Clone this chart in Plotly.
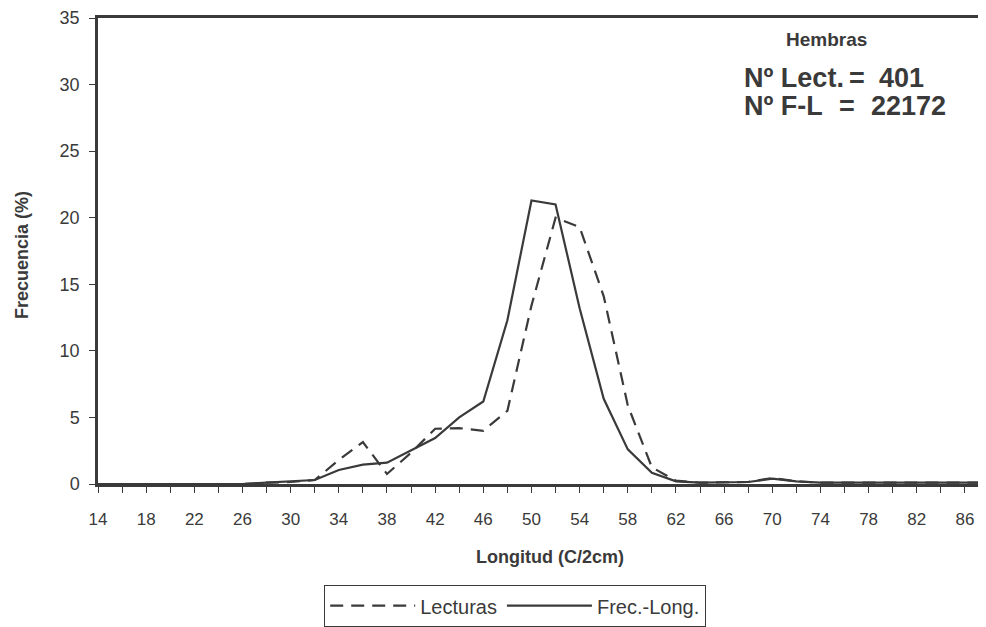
import plotly.graph_objects as go

# Categories (length classes, C/2cm)
longitud = [14, 16, 18, 20, 22, 24, 26, 28, 30, 32, 34, 36, 38, 40, 42, 44, 46, 48, 50,
            52, 54, 56, 58, 60, 62, 64, 66, 68, 70, 72, 74, 76, 78, 80, 82, 84, 86, 88]

# Lecturas (dashed)
lecturas = [0, 0, 0, 0, 0, 0, 0, 0.1, 0.15, 0.3, 1.8, 3.15, 0.75, 2.35, 4.15, 4.2, 4.0, 5.5, 13.4,
            20.0, 19.3, 14.1, 5.9, 1.25, 0.25, 0.1, 0.1, 0.15, 0.45, 0.2, 0.1, 0.1, 0.1, 0.1, 0.1, 0.1, 0.1, 0.1]

# Frec.-Long. (solid)
frec_long = [0, 0, 0, 0, 0, 0, 0, 0.1, 0.2, 0.3, 1.05, 1.45, 1.6, 2.5, 3.45, 5.0, 6.2, 12.3, 21.3,
             21.0, 13.2, 6.4, 2.6, 0.85, 0.2, 0.1, 0.1, 0.15, 0.4, 0.2, 0.1, 0.1, 0.1, 0.1, 0.1, 0.1, 0.1, 0.1]

x_tick_labels = ["14", "18", "22", "26", "30", "34", "38", "42", "46", "50",
                 "54", "58", "62", "66", "70", "74", "78", "82", "86"]
y_tick_labels = ["0", "5", "10", "15", "20", "25", "30", "35"]

INK = "#3a3a3a"
FONT = "Liberation Sans, Arial, sans-serif"

fig = go.Figure()
fig.add_trace(go.Scatter(x=longitud, y=lecturas, mode="lines", name="Lecturas",
                         line=dict(color=INK, width=2.2, dash="13px,8px")))
fig.add_trace(go.Scatter(x=longitud, y=frec_long, mode="lines", name="Frec.-Long.",
                         line=dict(color=INK, width=2.2)))

# page body has an 8px margin: figure is placed at (8, 8) in the window
OFF = 8
W, H = 986 - OFF, 627 - OFF
L, R, T, B = 98 - OFF, 3, 18 - OFF, H - (484 - OFF)
pw, ph = W - L - R, H - T - B

def px(x):
    return (x - OFF - L) / pw

def py(y):
    return (H - B - (y - OFF)) / ph

fig.update_layout(
    width=W, height=H,
    margin=dict(l=L, r=R, t=T, b=B, pad=0, autoexpand=False),
    paper_bgcolor="white", plot_bgcolor="white",
    font=dict(family=FONT, color=INK, size=17),
    showlegend=True,
    legend=dict(orientation="h", x=px(515), y=py(585), xanchor="center", yanchor="top",
                bordercolor=INK, borderwidth=1.2, bgcolor="white",
                font=dict(size=20, family=FONT, color=INK), itemwidth=85,
                tracegroupgap=0),
    xaxis=dict(range=[14, 87.5], tickmode="array", automargin=False,
               tickvals=[float(v) for v in x_tick_labels], ticktext=x_tick_labels,
               ticks="outside", ticklen=6, tickwidth=1.2, tickcolor=INK,
               minor=dict(tickmode="array", tickvals=longitud, ticks="outside",
                          ticklen=6, tickwidth=1.2, tickcolor=INK),
               showline=True, linecolor=INK, linewidth=2.5, mirror=True,
               showgrid=False, zeroline=False, ticklabelstandoff=12,
               ticklabeloverflow="allow",
               tickfont=dict(size=17, family=FONT, color=INK)),
    yaxis=dict(range=[0, 35], tickmode="array", automargin=False,
               tickvals=[float(v) for v in y_tick_labels], ticktext=y_tick_labels,
               ticks="outside", ticklen=6, tickwidth=1.2, tickcolor=INK,
               showline=True, linecolor=INK, linewidth=2.5, mirror=True,
               showgrid=False, zeroline=False, ticklabelstandoff=6,
               ticklabeloverflow="allow",
               tickfont=dict(size=18, family=FONT, color=INK)),
)

ann = [
    dict(text="<b>Longitud (C/2cm)</b>", x=px(550), y=py(557), xanchor="center", yanchor="middle",
         font=dict(size=18)),
    dict(text="<b>Frecuencia (%)</b>", x=px(22), y=py(255), xanchor="center", yanchor="middle",
         textangle=-90, font=dict(size=18)),
    dict(text="<b>Hembras</b>", x=px(826), y=py(40), xanchor="center", yanchor="middle",
         font=dict(size=19)),
    dict(text="<b>Nº Lect.</b>", x=px(742), y=py(78), xanchor="left", yanchor="middle",
         font=dict(size=27)),
    dict(text="<b>=</b>", x=px(847), y=py(78), xanchor="left", yanchor="middle",
         font=dict(size=27)),
    dict(text="<b>401</b>", x=px(877), y=py(78), xanchor="left", yanchor="middle",
         font=dict(size=27)),
    dict(text="<b>Nº F-L</b>", x=px(742), y=py(106), xanchor="left", yanchor="middle",
         font=dict(size=27)),
    dict(text="<b>=</b>", x=px(837), y=py(106), xanchor="left", yanchor="middle",
         font=dict(size=27)),
    dict(text="<b>22172</b>", x=px(869), y=py(106), xanchor="left", yanchor="middle",
         font=dict(size=27)),
]
for a in ann:
    a.update(xref="paper", yref="paper", showarrow=False)
    a["font"].update(family=FONT, color=INK)
    fig.add_annotation(**a)

fig.write_html("out.html")
